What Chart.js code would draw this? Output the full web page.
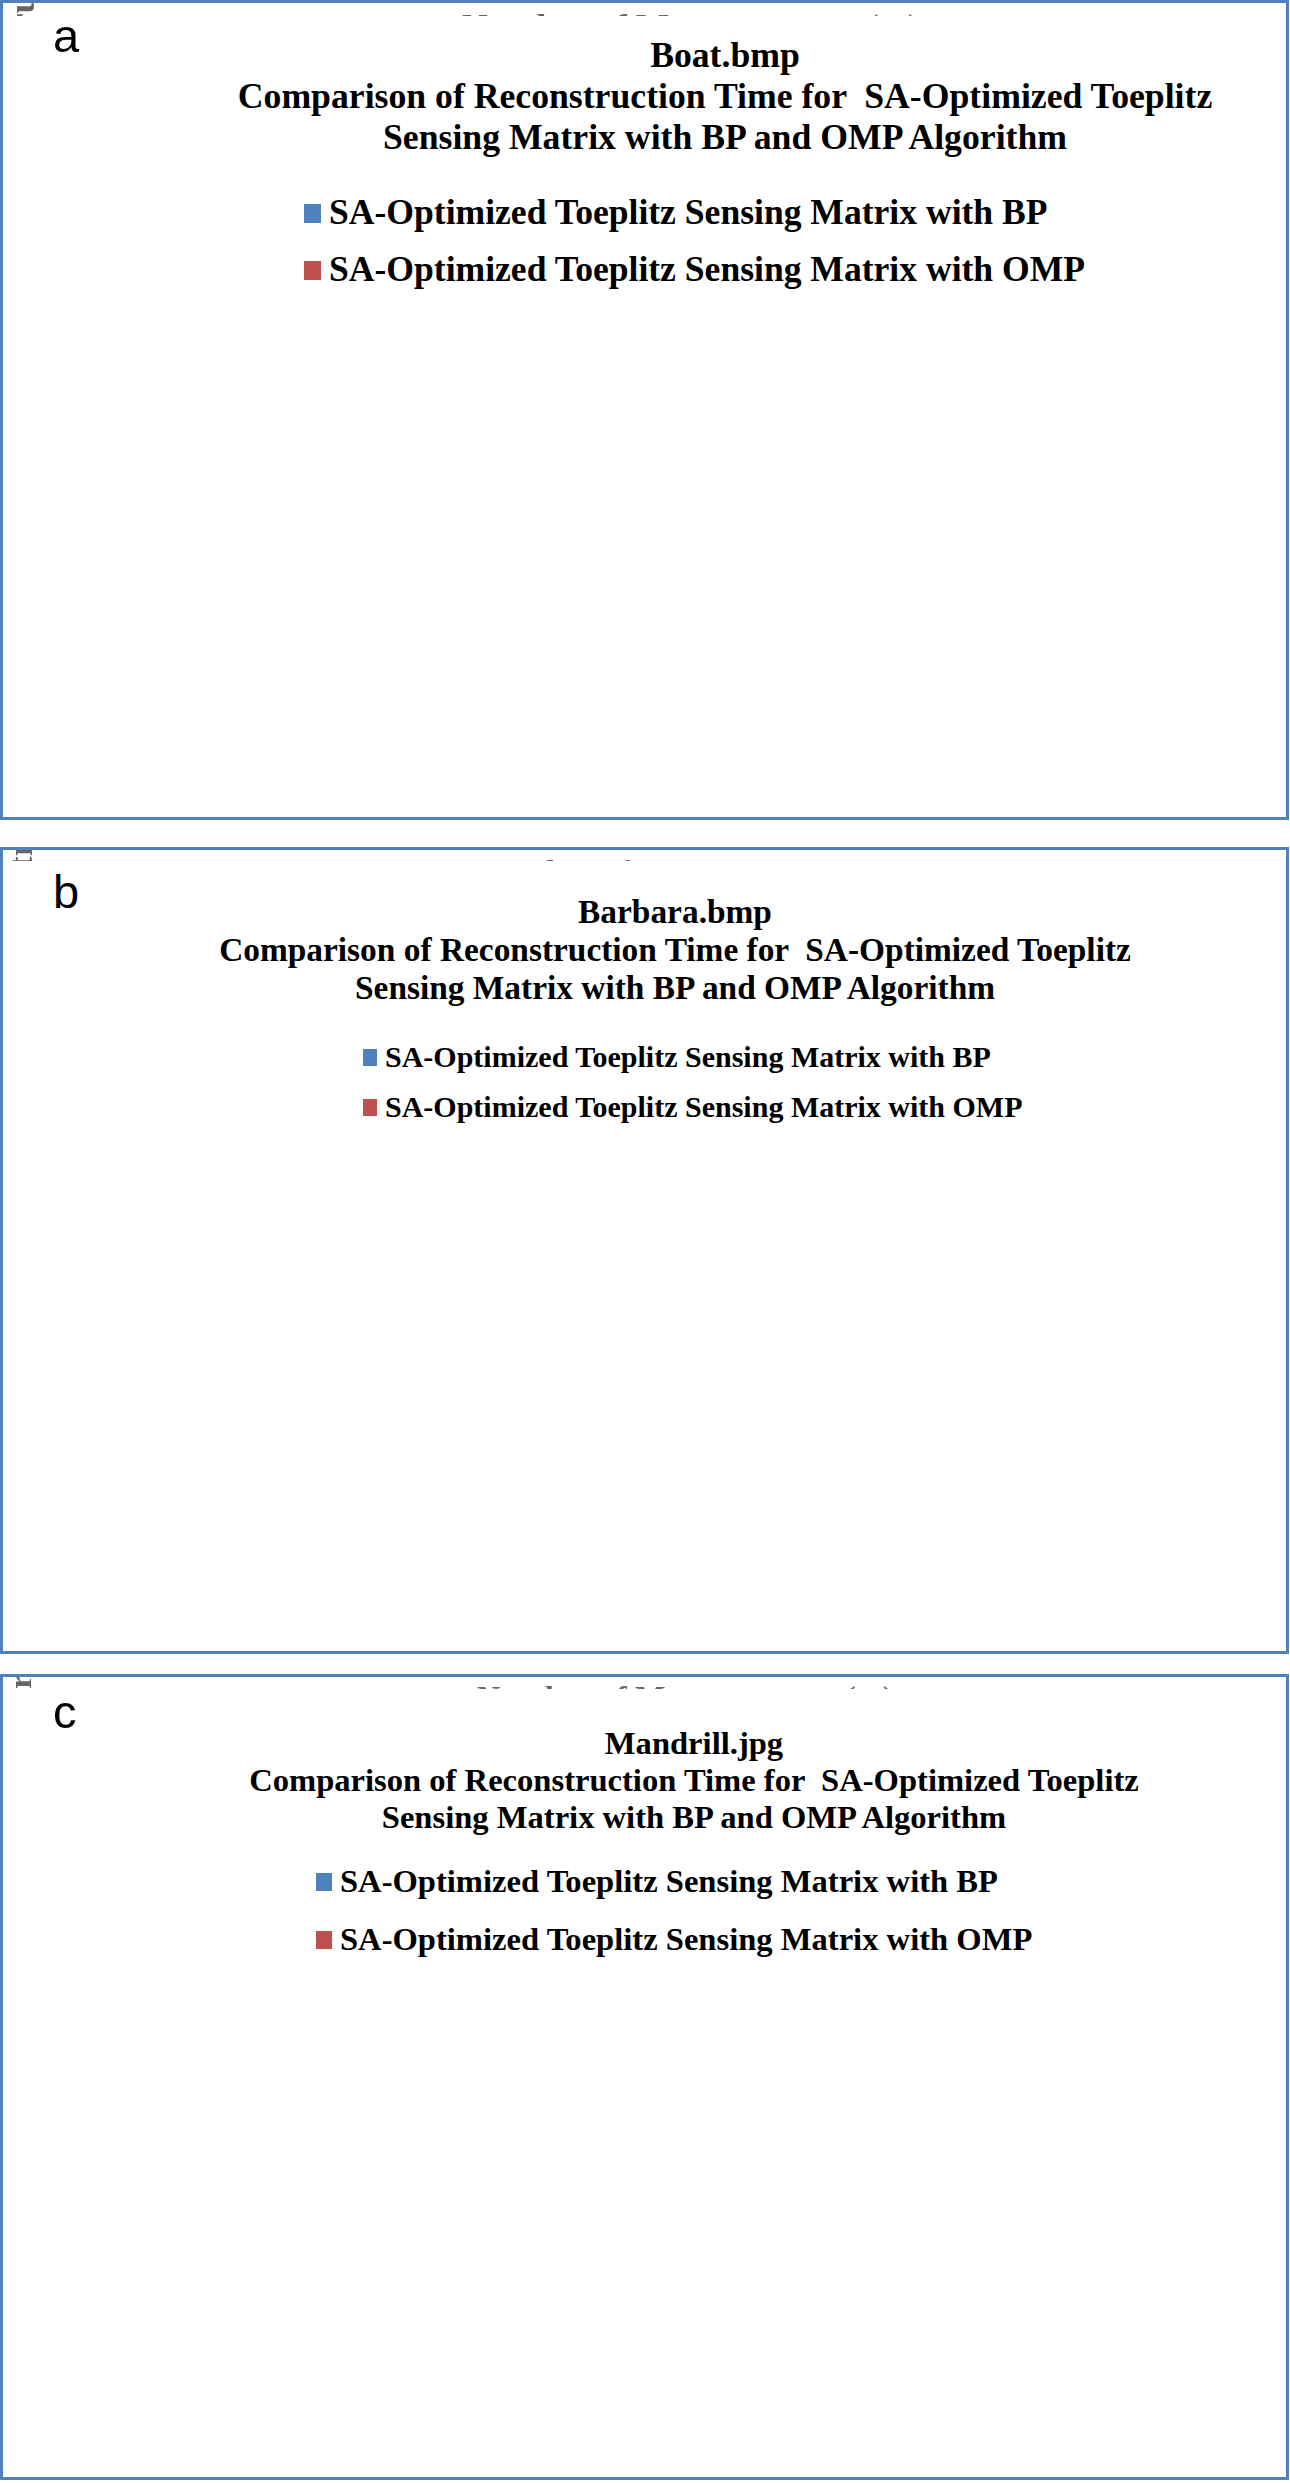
<!DOCTYPE html>
<html>
<head>
<meta charset="utf-8">
<script src="https://cdn.jsdelivr.net/npm/chart.js@4.4.1/dist/chart.umd.min.js"></script>
<style>
html, body { margin: 0; padding: 0; background: #ffffff; }
body { width: 1290px; height: 2483px; position: relative; overflow: hidden; }
.panel { position: absolute; left: 0; width: 1289px; box-sizing: border-box; border: 3px solid #4F81BD; background: #ffffff; }
.panel canvas { position: absolute; left: 0; top: 0; }
.tag { position: absolute; font-family: "Liberation Sans", Arial, sans-serif; font-size: 47px; line-height: 1; color: #000; }
.ttl { position: absolute; width: 1200px; text-align: center; white-space: pre; color: #000; font-family: "Liberation Serif", "Times New Roman", serif; font-weight: bold; }
.lgt { position: absolute; white-space: pre; color: #000; font-family: "Liberation Serif", "Times New Roman", serif; font-weight: bold; }
.lgb { position: absolute; }
</style>
</head>
<body>
<div class="panel" id="panel-a" style="top:0px;height:820px"><canvas id="cv-a"></canvas></div>
<div class="panel" id="panel-b" style="top:847px;height:807px"><canvas id="cv-b"></canvas></div>
<div class="panel" id="panel-c" style="top:1674px;height:806px"><canvas id="cv-c"></canvas></div>
<script>
// ---------- shared text ----------
const SERIES_BP = 'SA-Optimized Toeplitz Sensing Matrix with BP';
const SERIES_OMP = 'SA-Optimized Toeplitz Sensing Matrix with OMP';
const TITLE_LINE2 = 'Comparison of Reconstruction Time for  SA-Optimized Toeplitz';
const TITLE_LINE3 = 'Sensing Matrix with BP and OMP Algorithm';
const X_TITLE = 'Number of Measurements (m)';
const Y_TITLE = 'Image Reconstruction Time (Seconds)';

// ---------- panel a : Boat.bmp ----------
const boatTitle = 'Boat.bmp';
const boatM = [2,3,4,5,6,7,8,9,10,11,12,13,14,15,16,17,18,19,20,21,22,23,24,25,26,27,28,29,30,31,32,33,34,35,36,37,38,39,40,41,42,43,44,45,46,47,48,49,50,51,52,53,54,55,56,57,58,59,60,61,62,63];
const boatBP = [6.2,6.1,6.9,7.1,7.9,8.7,8.3,8.9,8.9,9.1,9.7,11.3,10.7,11.2,11.3,11.4,11.7,11.9,11.9,12.4,19.0,19.8,19.4,21.3,20.0,19.4,21.1,25.1,25.6,26.4,27.4,25.8,25.5,29.0,29.2,29.9,48.0,32.0,30.8,32.4,33.6,66.0,46.6,55.0,55.8,55.7,43.9,31.1,32.6,52.3,30.9,48.2,44.9,39.8,53.9,53.7,30.4,32.3,29.4,51.5,54.0,49.0];
const boatOMP = [1.2,1.3,1.2,1.3,1.3,1.3,1.3,1.7,1.5,1.5,1.6,1.7,1.9,2.1,1.9,2.0,2.1,2.4,2.4,2.6,2.5,2.6,2.7,2.8,3.1,3.1,3.3,3.5,3.7,3.8,3.7,3.8,3.8,4.1,3.7,3.8,3.8,4.0,3.8,3.9,3.9,4.0,4.0,4.0,4.0,4.0,4.0,4.1,4.3,4.1,4.1,4.1,4.3,4.1,4.1,4.5,4.3,4.4,4.1,4.4,4.1,4.6];
const boatXLabels = [2,5,8,11,14,17,20,23,26,29,32,35,38,41,44,47,50,53,56,59,62];
const boatYTicks = [0,10,20,30,40,50,60,70];

// ---------- panel b : Barbara.bmp ----------
const barbaraTitle = 'Barbara.bmp';
const barbaraM = [1,2,3,4,5,6,7,8,9,10,11,12,13,14,15,16,17,18,19,20,21,22,23,24,25,26,27,28,29,30,31,32,33,34,35,36,37,38,39,40,41,42,43,44,45,46,47,48,49,50,51,52,53,54,55,56,57,58,59,60,61,62];
const barbaraBP = [6.2,6.4,7.1,7.1,7.9,7.9,8.8,8.7,9.0,8.9,9.0,10.2,10.2,10.8,11.0,11.6,11.4,11.7,11.7,12.1,12.0,13.1,12.5,12.6,12.7,12.9,13.0,13.3,13.1,13.6,14.5,14.5,15.1,15.4,15.2,15.9,15.9,16.7,16.3,17.4,16.6,17.1,17.1,17.9,17.7,18.0,18.2,18.3,18.2,18.6,18.5,19.4,19.8,19.5,19.4,19.0,19.7,19.5,16.3,17.7,18.7,16.7];
const barbaraOMP = [1.15,1.15,1.2,1.2,1.35,1.45,1.4,1.5,1.5,1.7,1.72,1.72,1.78,1.9,1.92,2.05,2.07,2.22,2.4,2.4,2.5,2.64,2.76,2.86,3.22,3.43,3.4,3.62,4.07,4.07,3.83,3.94,3.99,3.99,3.97,4.11,4.06,4.11,4.11,4.11,4.04,4.18,4.06,4.11,4.11,4.28,4.11,4.18,4.13,4.28,4.13,4.39,4.35,4.39,4.32,4.49,4.54,4.63,4.39,4.68,4.42,4.54];
const barbaraXLabels = [1,3,5,7,9,11,13,15,17,19,21,23,25,27,29,31,33,35,37,39,41,43,45,47,49,51,53,55,57,59,61];
const barbaraYTicks = [0,5,10,15,20,25];

// ---------- panel c : Mandrill.jpg ----------
const mandrillTitle = 'Mandrill.jpg';
const mandrillM = [2,3,4,5,6,7,8,9,10,11,12,13,14,15,16,17,18,19,20,21,22,23,24,25,26,27,28,29,30,31,32,33,34,35,36,37,38,39,40,41,42,43,44,45,46,47,48,49,50,51,52,53,54,55,56,57,58,59,60,61,62,63];
const mandrillBP = [6.07,6.09,6.7,7.33,8.12,8.05,9.16,8.67,8.79,9.14,9.0,11.53,10.19,11.26,13.56,15.79,11.16,11.58,11.47,12.65,11.74,12.23,11.95,12.93,12.14,12.0,12.42,13.09,13.21,13.88,13.28,13.35,13.91,13.95,13.84,14.51,14.3,14.81,14.65,17.37,15.37,15.28,15.35,16.42,16.21,19.19,15.98,16.35,16.6,16.7,15.84,16.56,16.74,16.84,16.98,16.21,16.74,15.56,14.81,15.23,14.74,14.4];
const mandrillOMP = [1.07,1.37,1.21,1.33,1.37,1.47,1.47,1.74,1.56,1.63,1.7,1.74,1.84,1.95,1.98,2.12,2.16,2.37,2.37,2.47,2.6,2.65,2.79,2.88,3.09,3.23,3.42,3.58,3.84,3.72,3.72,3.79,3.79,3.86,3.86,4.33,3.86,4.0,3.93,4.0,4.07,4.23,3.98,4.07,4.0,4.12,4.0,4.14,4.12,4.14,4.12,4.26,4.28,4.33,4.26,4.49,4.26,4.35,4.26,4.4,4.26,4.44];
const mandrillXLabels = [2,5,8,11,14,17,20,23,26,29,32,35,38,41,44,47,50,53,56,59,62];
const mandrillYTicks = [0,5,10,15,20,25];

// ---------- styling ----------
const SERIF = '"Liberation Serif", "Times New Roman", Times, serif';
const BLUE = '#4F81BD';
const RED = '#C0504D';
const GRID = '#868686';
const INK = '#000000';

const PANELS = [
  { id: 'a', boxTop: 0, boxH: 820, tagTop: 9, title: boatTitle, m: boatM, bp: boatBP, omp: boatOMP, yTicks: boatYTicks, shown: boatXLabels,
    labelShiftCats: 1.5, area: {left: 164, right: 1216, top: 307, bottom: 664},
    titleSize: 35.7, titleLH: 41, titleCX: 725, titleY: 55,
    legendSize: 35.6, legendY: 213, legendGap: 57, legendTextX: 329, boxW: 17, boxH: 19,
    tickSize: 34, xTickPad: 11, yTickPad: 21,
    xTitleSize: 35.5, xTitleY: 759, yTitleSize: 35.6, yTitleX: 74, yTitleY: 406 },
  { id: 'b', boxTop: 847, boxH: 807, tagTop: 18, title: barbaraTitle, m: barbaraM, bp: barbaraBP, omp: barbaraOMP, yTicks: barbaraYTicks, shown: barbaraXLabels,
    labelShiftCats: 0, area: {left: 153, right: 1245, top: 1152, bottom: 1504},
    titleSize: 33.4, titleLH: 38, titleCX: 675, titleY: 912,
    legendSize: 30, legendY: 1057, legendGap: 50, legendTextX: 385, boxW: 14, boxH: 17,
    tickSize: 33, xTickPad: 8, yTickPad: 20,
    xTitleSize: 33.2, xTitleY: 1593, yTitleSize: 33.4, yTitleX: 72, yTitleY: 1234 },
  { id: 'c', boxTop: 1674, boxH: 806, tagTop: 11, title: mandrillTitle, m: mandrillM, bp: mandrillBP, omp: mandrillOMP, yTicks: mandrillYTicks, shown: mandrillXLabels,
    labelShiftCats: 1.5, area: {left: 149, right: 1222, top: 1979, bottom: 2337},
    titleSize: 32.6, titleLH: 37, titleCX: 694, titleY: 1743,
    legendSize: 32.6, legendY: 1882, legendGap: 58, legendTextX: 340, boxW: 16, boxH: 18,
    tickSize: 33, xTickPad: 9, yTickPad: 16,
    xTitleSize: 32.3, xTitleY: 2423, yTitleSize: 32.6, yTitleX: 68, yTitleY: 2075 }
];

// Panel letter, title lines and legend rows as real page text.
function addHeader(P) {
  const panel = document.getElementById('panel-' + P.id);
  const ox = 3, oy = P.boxTop + 3;
  const tag = document.createElement('div');
  tag.className = 'tag';
  tag.style.left = '50px'; tag.style.top = P.tagTop + 'px';
  tag.textContent = P.id;
  panel.appendChild(tag);
  const t = document.createElement('div');
  t.className = 'ttl';
  t.style.fontSize = P.titleSize + 'px';
  t.style.lineHeight = P.titleLH + 'px';
  t.style.left = (P.titleCX - ox - 600) + 'px';
  t.style.top = (P.titleY - oy - P.titleLH / 2) + 'px';
  t.textContent = [P.title, TITLE_LINE2, TITLE_LINE3].join('\n');
  panel.appendChild(t);
  [[SERIES_BP, BLUE], [SERIES_OMP, RED]].forEach((item, k) => {
    const cy = P.legendY + k * P.legendGap;
    const b = document.createElement('div');
    b.className = 'lgb';
    b.style.background = item[1];
    b.style.width = P.boxW + 'px'; b.style.height = P.boxH + 'px';
    b.style.left = (P.legendTextX - 8 - P.boxW - ox) + 'px';
    b.style.top = (cy - P.boxH / 2 - oy) + 'px';
    panel.appendChild(b);
    const s = document.createElement('div');
    s.className = 'lgt';
    s.style.fontSize = P.legendSize + 'px';
    s.style.lineHeight = P.legendSize + 'px';
    s.style.left = (P.legendTextX - ox) + 'px';
    s.style.top = (cy - 0.51 * P.legendSize - oy) + 'px';
    s.textContent = item[0];
    panel.appendChild(s);
  });
}

// feature flags, dropped one by one if Chart.js ever lays out an empty plot
const FEATURES = ['dsStyle', 'dsColor', 'axisColor', 'xAfterFit', 'yAfterFit', 'labelOffset', 'callback'];

function makeConfig(P, L, pad, F, yShiftPlugin) {
  const ds = (label, data, color) => {
    const d = {label: label, data: data};
    if (F.dsColor) d.backgroundColor = color;
    if (F.dsStyle) { d.borderWidth = 0; d.categoryPercentage = 0.6; d.barPercentage = 1.0; }
    return d;
  };
  const o = {
    responsive: false, animation: false,
    layout: {padding: pad},
    plugins: { legend: {display: false}, title: {display: false} },
    scales: {
      x: {
        grid: {drawOnChartArea: false, tickLength: 11, lineWidth: 2.5},
        border: {display: true, width: 2.5},
        ticks: {autoSkip: false, maxRotation: 0, minRotation: 0, padding: P.xTickPad,
                font: {family: SERIF, size: P.tickSize}},
        title: {display: true, text: X_TITLE, padding: {top: 0, bottom: 0},
                font: {family: SERIF, size: P.xTitleSize, weight: 'bold', lineHeight: 1.2}}
      },
      y: {
        min: P.yTicks[0], max: P.yTicks[P.yTicks.length - 1],
        grid: {lineWidth: 2.5, tickLength: 10},
        border: {display: true, width: 2.5},
        ticks: {stepSize: P.yTicks[1] - P.yTicks[0], padding: P.yTickPad, font: {family: SERIF, size: P.tickSize}},
        title: {display: true, text: Y_TITLE, padding: {top: 0, bottom: 0},
                font: {family: SERIF, size: P.yTitleSize, weight: 'bold', lineHeight: 1.2}}
      }
    }
  };
  if (!F.dsColor) {
    o.elements = {bar: {backgroundColor: c => (c.datasetIndex === 1 ? RED : BLUE), borderWidth: 0}};
  }
  if (F.axisColor) {
    o.scales.x.grid.color = GRID; o.scales.x.border.color = GRID;
    o.scales.y.grid.color = GRID; o.scales.y.border.color = GRID;
    o.scales.x.ticks.color = INK; o.scales.y.ticks.color = INK;
    o.scales.x.title.color = INK; o.scales.y.title.color = INK;
  }
  if (F.labelOffset) o.scales.x.ticks.labelOffset = -P.labelShiftCats * L.catW;
  if (F.callback) o.scales.x.ticks.callback = (v, i) => (P.shown.includes(P.m[i]) ? String(P.m[i]) : '');
  if (F.xAfterFit) o.scales.x.afterFit = s => { s.height = L.xAxisH; };
  if (F.yAfterFit) o.scales.y.afterFit = s => { s.width = L.yAxisW; };
  return {
    type: 'bar',
    data: { labels: P.m, datasets: [ds(SERIES_BP, P.bp, BLUE), ds(SERIES_OMP, P.omp, RED)] },
    options: o,
    plugins: [yShiftPlugin]
  };
}

function makePanel(P) {
  const canvas = document.getElementById('cv-' + P.id);
  const cw = 1283, ch = P.boxH - 6;
  const ox = 3, oy = P.boxTop + 3;
  const A = {left: P.area.left - ox, right: P.area.right - ox, top: P.area.top - oy, bottom: P.area.bottom - oy};
  const L = {
    catW: (A.right - A.left) / P.m.length,
    yAxisW: A.left - (P.yTitleX - ox - P.yTitleSize * 1.2 / 2),
    xAxisH: (P.xTitleY - oy) - A.bottom + P.xTitleSize * 1.2 / 2
  };
  const yShift = (P.yTitleY - oy) - (A.top + A.bottom) / 2;
  const yShiftPlugin = {
    id: 'ytitle' + P.id,
    afterLayout(chart) {
      const ys = chart.scales.y;
      if (ys && !ys.__shifted) {
        const orig = ys.drawTitle;
        ys.drawTitle = function () {
          this.top += yShift; this.bottom += yShift;
          try { orig.call(this); } finally { this.top -= yShift; this.bottom -= yShift; }
        };
        ys.__shifted = true;
      }
    }
  };
  const ok = c => c && c.chartArea && c.chartArea.height > 100 && c.chartArea.width > 100;

  const F = {};
  FEATURES.forEach(f => { F[f] = true; });
  let chart = null, pad = null;
  for (let drop = 0; drop <= FEATURES.length; drop++) {
    if (drop > 0) F[FEATURES[drop - 1]] = false;
    if (chart) { try { chart.destroy(); } catch (e) {} chart = null; }
    canvas.width = cw; canvas.height = ch;
    pad = {left: 0, right: 0, top: 0, bottom: 0};
    try { chart = new Chart(canvas, makeConfig(P, L, pad, F, yShiftPlugin)); } catch (e) { chart = null; }
    if (ok(chart)) break;
  }
  if (!chart) return;
  for (let k = 0; k < 3; k++) {
    const ca = chart.chartArea;
    if (!ok(chart)) break;
    const save = Object.assign({}, pad);
    pad.left = Math.max(0, pad.left + A.left - ca.left);
    pad.right = Math.max(0, pad.right + ca.right - A.right);
    pad.top = Math.max(0, pad.top + A.top - ca.top);
    pad.bottom = Math.max(0, pad.bottom + ca.bottom - A.bottom);
    chart.update();
    if (!ok(chart)) { Object.assign(pad, save); chart.update(); break; }
  }
}

PANELS.forEach(P => { try { makePanel(P); } catch (e) {} });
PANELS.forEach(addHeader);
</script>
</body>
</html>
